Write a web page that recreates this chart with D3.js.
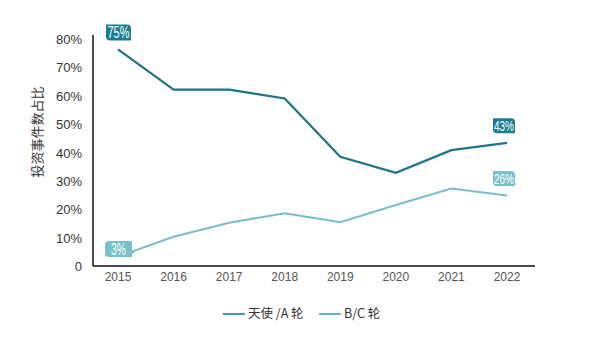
<!DOCTYPE html>
<html><head><meta charset="utf-8">
<script src="https://cdn.jsdelivr.net/npm/d3@7"></script>
<style>body{margin:0;background:#fff}</style>
</head><body>
<svg id="chart" width="600" height="342"></svg>
<script>
const years = ["2015","2016","2017","2018","2019","2020","2021","2022"];
const seriesNames = ["天使 /A 轮", "B/C 轮"];
const angelA = [76.5, 62.3, 62.3, 59.2, 38.7, 33.0, 41.0, 43.6];
const roundBC = [3.5, 10.5, 15.4, 18.8, 15.6, 21.7, 27.5, 25.0];
const yTicks = [0, 10, 20, 30, 40, 50, 60, 70, 80];
const labelsA = [{year:"2015", text:"75%"}, {year:"2022", text:"43%"}];
const labelsBC = [{year:"2015", text:"3%"}, {year:"2022", text:"26%"}];
const yTitle = "投资事件数占比";

const svg = d3.select("#chart");
const font = "'Liberation Sans', Arial, sans-serif";
const x = d3.scalePoint().domain(years).range([118, 507]);
const y = d3.scaleLinear().domain([0, 80]).range([266.5, 39.5]);
const axisLeft = 93, axisRight = 535, baseY = 266;

const colors = {A:"#1d7386", BC:"#7bbdc7", boxA:"#1a7c93", boxBC:"#78c0ca", legA:"#3f9ea8", legBC:"#63b5be"};

// y tick labels
svg.append("g").selectAll("text").data(yTicks).join("text")
  .attr("x", 82).attr("y", d => y(d)).attr("dy", "0.35em")
  .attr("text-anchor", "end").attr("font-family", font).attr("font-size", 13)
  .attr("fill", "#333").text(d => d === 0 ? "0" : d + "%");

// x tick labels
svg.append("g").selectAll("text").data(years).join("text")
  .attr("x", d => x(d)).attr("y", 277).attr("dy", "0.35em")
  .attr("text-anchor", "middle").attr("font-family", font).attr("font-size", 12)
  .attr("fill", "#555").text(d => d);

// axes lines
svg.append("line").attr("x1", axisLeft).attr("x2", axisLeft).attr("y1", 35).attr("y2", baseY)
  .attr("stroke", "#111").attr("stroke-width", 1.5);
svg.append("line").attr("x1", axisLeft).attr("x2", axisRight).attr("y1", baseY).attr("y2", baseY)
  .attr("stroke", "#111").attr("stroke-width", 1.5);

// y title
svg.append("text").attr("transform", "translate(37,132) rotate(-90)")
  .attr("text-anchor", "middle").attr("dy", "0.35em")
  .attr("font-family", "'Noto Sans CJK SC', sans-serif").attr("font-size", 13)
  .attr("fill", "#333").text(yTitle);

const line = d3.line().x((d, i) => x(years[i])).y(d => y(d));
svg.append("path").datum(roundBC).attr("d", line).attr("fill", "none")
  .attr("stroke", colors.BC).attr("stroke-width", 2);
svg.append("path").datum(angelA).attr("d", line).attr("fill", "none")
  .attr("stroke", colors.A).attr("stroke-width", 2.2);

function lineYAt(vals, px) {
  const ax = x(years[0]), bx = x(years[1]);
  return y(vals[0]) + (px - ax) / (bx - ax) * (y(vals[1]) - y(vals[0]));
}

function drawLabels(labels, vals, fill, lowFirst) {
  labels.forEach(l => {
    const i = years.indexOf(l.year);
    const first = i === 0;
    const narrow = l.text.length < 3;
    const bw = first ? (narrow ? 27 : 25) : 22;
    const bh = first ? 16 : 15;
    const cx = x(l.year) + (first ? 0.5 : -3);
    const cy = y(vals[i]) - (first && lowFirst ? 7.5 : 17);
    const g = svg.append("g");
    const x0 = cx - bw/2, y0 = cy - bh/2, r = 4;
    if (first && lowFirst) {
      // small tail at the bottom-right that meets the line
      const tx = x0 + bw + 3;
      g.append("path").attr("d",
        `M${x0+bw-4},${y0+bh} L${tx},${lineYAt(vals, tx)+1.2} L${tx},${lineYAt(vals, tx)-1.2} L${x0+bw},${y0+bh-6} Z`)
        .attr("fill", fill);
      g.append("path").attr("d",
        `M${x0+r},${y0} H${x0+bw} V${y0+bh} H${x0+r} Q${x0},${y0+bh} ${x0},${y0+bh-r} V${y0+r} Q${x0},${y0} ${x0+r},${y0} Z`)
        .attr("fill", fill);
    } else {
      g.append("path").attr("d",
        `M${x0},${y0} H${x0+bw-r} Q${x0+bw},${y0} ${x0+bw},${y0+r} V${y0+bh} H${x0+r} Q${x0},${y0+bh} ${x0},${y0+bh-r} Z`)
        .attr("fill", fill);
    }
    g.append("text").attr("x", cx).attr("y", cy).attr("dy", "0.36em")
      .attr("text-anchor", "middle").attr("font-family", font).attr("font-size", first ? 16 : 15)
      .attr("textLength", narrow ? 15 : (first ? 22 : 20)).attr("lengthAdjust", "spacingAndGlyphs")
      .attr("fill", "#fff").text(l.text);
  });
}
drawLabels(labelsA, angelA, colors.boxA, false);
drawLabels(labelsBC, roundBC, colors.boxBC, true);

// legend
const leg = [{name: seriesNames[0], c: colors.legA, x: 223}, {name: seriesNames[1], c: colors.legBC, x: 319}];
const lg = svg.append("g");
leg.forEach(d => {
  lg.append("line").attr("x1", d.x).attr("x2", d.x + 22).attr("y1", 314).attr("y2", 314)
    .attr("stroke", d.c).attr("stroke-width", 2);
  lg.append("text").attr("x", d.x + 25).attr("y", 314).attr("dy", "0.35em")
    .attr("font-family", "'Noto Sans CJK SC', sans-serif").attr("font-size", 12.5)
    .attr("fill", "#333").text(d.name);
});
</script>
</body></html>
